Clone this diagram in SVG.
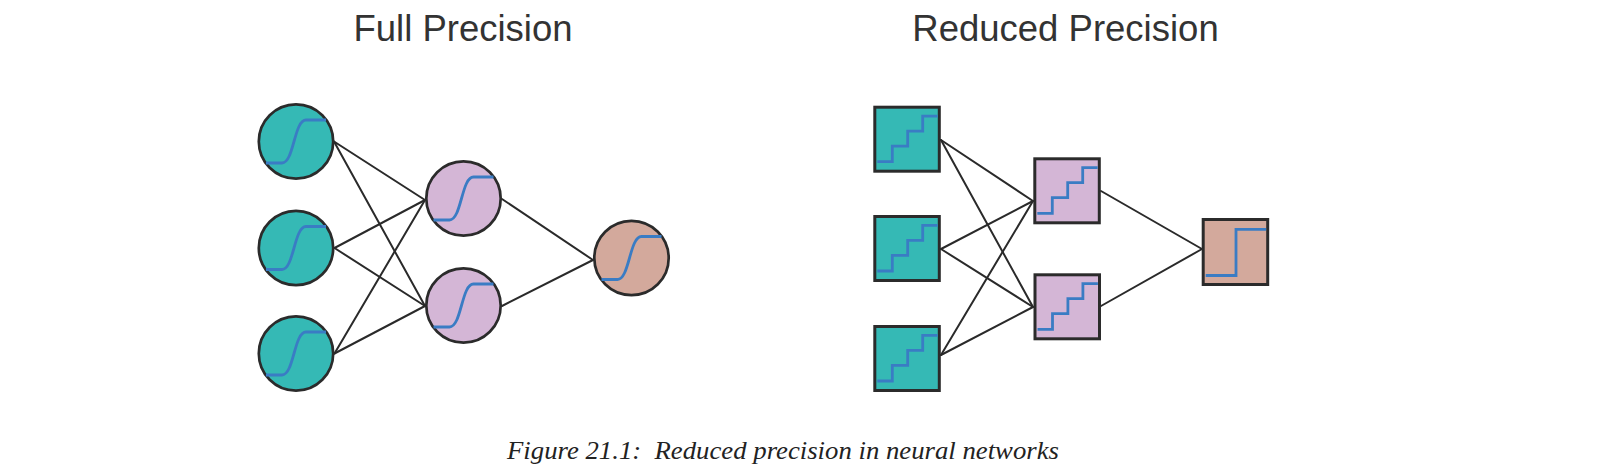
<svg xmlns="http://www.w3.org/2000/svg" width="1603" height="471" viewBox="0 0 1603 471">
<style>
.title{font-family:"Liberation Sans",Arial,sans-serif;font-size:36.5px;fill:#333333;text-anchor:middle}
.caption{font-family:"Liberation Serif","Times New Roman",serif;font-style:italic;font-size:26px;fill:#222222;white-space:pre}
.edge{stroke:#2a2a2a;stroke-width:2;fill:none;stroke-linecap:round}
.node{stroke:#2b2b2b;stroke-width:2.7}
.sq{stroke:#2b2b2b;stroke-width:3}
.teal{fill:#35b9b5}
.purple{fill:#d4b6d6}
.brown{fill:#d3a99c}
.fn{stroke:#3a7cc4;stroke-width:2.8;fill:none}
</style>
<defs>
<path id="sig" d="M-30,21.5 H-14 C-2,21.5 -2,-21.5 10,-21.5 H30"/>
<path id="stair" d="M4,56 H19 V40.4 H34.4 V25.4 H49.4 V10.4 H64.4"/>
<path id="step" d="M4,57.5 H34.3 V11.3 H64.4"/>
</defs>
<rect width="1603" height="471" fill="#ffffff"/>
<text class="title" x="463" y="41">Full Precision</text>
<text class="title" x="1065.5" y="41">Reduced Precision</text>
<g id="connectors">
<line class="edge" x1="334" y1="141.5" x2="425" y2="200"/>
<line class="edge" x1="334" y1="141.5" x2="425" y2="306"/>
<line class="edge" x1="334.5" y1="248" x2="425" y2="200"/>
<line class="edge" x1="334.5" y1="248" x2="425" y2="306"/>
<line class="edge" x1="334.5" y1="353.5" x2="425" y2="200"/>
<line class="edge" x1="334.5" y1="353.5" x2="425" y2="306"/>
<line class="edge" x1="502" y1="199" x2="593" y2="260"/>
<line class="edge" x1="502" y1="306" x2="593" y2="260"/>
<line class="edge" x1="941" y1="140" x2="1033" y2="201"/>
<line class="edge" x1="941" y1="140" x2="1033" y2="307"/>
<line class="edge" x1="941" y1="249" x2="1033" y2="201"/>
<line class="edge" x1="941" y1="249" x2="1033" y2="307"/>
<line class="edge" x1="941" y1="355" x2="1033" y2="201"/>
<line class="edge" x1="941" y1="355" x2="1033" y2="307"/>
<line class="edge" x1="1101" y1="191" x2="1202" y2="249"/>
<line class="edge" x1="1101" y1="306" x2="1202" y2="249"/>
</g>
<g id="fp-in1" transform="translate(296,141.5)"><circle class="node teal" r="37.2"/><use href="#sig" class="fn"/></g>
<g id="fp-in2" transform="translate(296,248)"><circle class="node teal" r="37.2"/><use href="#sig" class="fn"/></g>
<g id="fp-in3" transform="translate(296,353.5)"><circle class="node teal" r="37.2"/><use href="#sig" class="fn"/></g>
<g id="fp-h1" transform="translate(463.5,198.5)"><circle class="node purple" r="37.2"/><use href="#sig" class="fn"/></g>
<g id="fp-h2" transform="translate(463.5,305.5)"><circle class="node purple" r="37.2"/><use href="#sig" class="fn"/></g>
<g id="fp-out" transform="translate(631.5,258)"><circle class="node brown" r="37.2"/><use href="#sig" class="fn"/></g>
<g id="rp-in1" transform="translate(873.3,105.7)"><rect class="sq teal" x="1.5" y="1.5" width="64.5" height="64"/><use href="#stair" class="fn"/></g>
<g id="rp-in2" transform="translate(873.3,215)"><rect class="sq teal" x="1.5" y="1.5" width="64.5" height="64"/><use href="#stair" class="fn"/></g>
<g id="rp-in3" transform="translate(873.3,325)"><rect class="sq teal" x="1.5" y="1.5" width="64.5" height="64"/><use href="#stair" class="fn"/></g>
<g id="rp-h1" transform="translate(1033.3,157.3)"><rect class="sq purple" x="1.5" y="1.5" width="64.5" height="64"/><use href="#stair" class="fn"/></g>
<g id="rp-h2" transform="translate(1033.5,273.3)"><rect class="sq purple" x="1.5" y="1.5" width="64.5" height="64"/><use href="#stair" class="fn"/></g>
<g id="rp-out" transform="translate(1201.7,218)"><rect class="sq brown" x="1.5" y="1.5" width="64.5" height="65"/><use href="#step" class="fn"/></g>
<text class="caption" x="507" y="459" textLength="552" lengthAdjust="spacingAndGlyphs" xml:space="preserve">Figure 21.1:  Reduced precision in neural networks</text>
</svg>
